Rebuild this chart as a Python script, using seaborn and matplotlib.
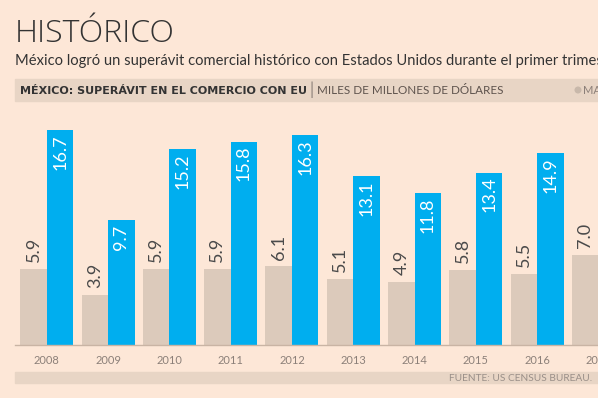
import numpy as np
import pandas as pd
import matplotlib.pyplot as plt
from matplotlib.patches import Rectangle, Circle
import seaborn as sns

# ===== DATA =====
anios = ["2008", "2009", "2010", "2011", "2012", "2013", "2014", "2015", "2016", "2017"]
marzo = [5.9, 3.9, 5.9, 5.9, 6.1, 5.1, 4.9, 5.8, 5.5, 7.0]
trimestre = [16.7, 9.7, 15.2, 15.8, 16.3, 13.1, 11.8, 13.4, 14.9, np.nan]  # 2017 cut off in the source
series = ["Marzo", "Trimestre"]

# ===== STYLE =====
BG = "#fde7d7"
GRAY = "#dccabb"
BLUE = "#00aeef"
BAND = "#e8d5c5"
DARK = "#333333"
MUTED = "#8c8079"
W, H = 598, 398

sns.set_theme(style="white")
plt.rcParams["font.family"] = ["Lato", "DejaVu Sans"]

df = pd.DataFrame({
    "anio": anios * 2,
    "valor": marzo + trimestre,
    "serie": [series[0]] * len(anios) + [series[1]] * len(anios),
})

fig = plt.figure(figsize=(W / 100, H / 100), dpi=100, facecolor=BG)

# header / footer bands (under everything)
fig.patches.append(Rectangle((15 / W, 1 - 101 / H), (W - 15) / W, 22 / H,
                             transform=fig.transFigure, color=BAND, zorder=-5))
fig.patches.append(Rectangle((15 / W, 1 - 383 / H), (W - 15) / W, 11 / H,
                             transform=fig.transFigure, color=BAND, zorder=-5))

# axes run past the right edge, like the cropped original
ax = fig.add_axes([15 / W, 53 / H, 614 / W, 231.7 / H])
ax.set_facecolor("none")
sns.barplot(data=df, x="anio", y="valor", hue="serie", palette=[GRAY, BLUE],
            width=0.865, saturation=1, legend=False, ax=ax, linewidth=0)
ax.set_xlim(-0.52, 9.5)
ax.set_ylim(0, 18)
ax.set_yticks([])
ax.set_xlabel("")
ax.set_ylabel("")
for s in ["top", "left", "right"]:
    ax.spines[s].set_visible(False)
ax.spines["bottom"].set_color("#c9b4a4")
ax.spines["bottom"].set_linewidth(1)
ax.tick_params(axis="x", length=0, pad=7, labelsize=8, labelcolor=MUTED)

# value labels
for cont, vals, is_blue in zip(ax.containers, [marzo, trimestre], [False, True]):
    for bar, v in zip(cont, vals):
        if np.isnan(v):
            continue
        xc = bar.get_x() + bar.get_width() / 2
        if is_blue:
            ax.annotate(f"{v:.1f}", xy=(xc, v), xytext=(0, -3), textcoords="offset points",
                        ha="center", va="top", rotation=90, fontsize=13, color="white",
                        annotation_clip=False)
        else:
            ax.annotate(f"{v:.1f}", xy=(xc, v), xytext=(0, 5), textcoords="offset points",
                        ha="center", va="bottom", rotation=90, fontsize=13, color="#4a4a4a",
                        annotation_clip=False)

# titles
fig.text(15 / W, 1 - 42 / H, "HISTÓRICO", fontsize=23, fontweight="light",
         family=["Open Sans", "DejaVu Sans"], color=DARK, va="baseline", ha="left")
fig.text(15 / W, 1 - 65 / H,
         "México logró un superávit comercial histórico con Estados Unidos durante el primer trimestre",
         fontsize=10.6, color=DARK, va="baseline", ha="left")

# header band text, chained one after another
over = fig.add_axes([0, 0, 1, 1], facecolor="none")
over.set_axis_off()
over.set_xlim(0, W)
over.set_ylim(H, 0)
t1 = over.text(20, 94, "MÉXICO: SUPERÁVIT EN EL COMERCIO CON EU", fontsize=8,
               fontweight="bold", family=["DejaVu Sans"], color=DARK, va="baseline")
over.annotate("|", xy=(1, 0), xycoords=t1, xytext=(2, -1.5), textcoords="offset points",
              fontsize=12, color=MUTED, va="bottom")
over.annotate("MILES DE MILLONES DE DÓLARES", xy=(1, 0), xycoords=t1, xytext=(7, 0),
              textcoords="offset points", fontsize=8.4, color="#5e534d", va="bottom")
over.add_patch(Circle((578, 90), 2.8, color="#c8b8aa"))
over.text(583, 94, "MARZO", fontsize=8, color=MUTED, va="baseline")

# source
over.text(592, 381, "FUENTE: US CENSUS BUREAU.", fontsize=7.3, color="#9a8f88",
          ha="right", va="baseline")

fig.savefig("out.png", dpi=100, facecolor=BG)
